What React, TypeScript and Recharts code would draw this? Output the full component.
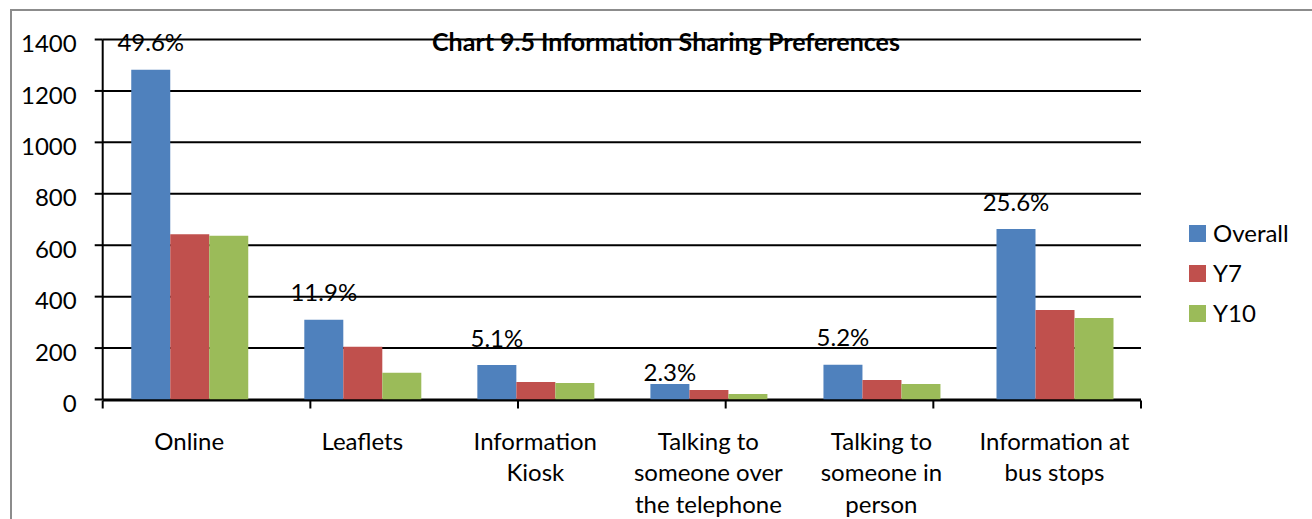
import React from "react";
import { BarChart, Bar, XAxis, YAxis, CartesianGrid, Legend, LabelList } from "recharts";

const categories = [
  "Online",
  "Leaflets",
  "Information\nKiosk",
  "Talking to\nsomeone over\nthe telephone",
  "Talking to\nsomeone in\nperson",
  "Information at\nbus stops",
];
const overall = [1282, 310, 134, 60, 135, 663];
const y7 = [643, 205, 68, 37, 76, 348];
const y10 = [637, 104, 64, 21, 60, 317];
const shareLabels = ["49.6%", "11.9%", "5.1%", "2.3%", "5.2%", "25.6%"];
const yTicks = [0, 200, 400, 600, 800, 1000, 1200, 1400];
const edgeTicks = [0, 1, 2, 3, 4, 5, 6];

// style: how far above the blue bar each share label sits
const labelRaise = [27, 27, 27, 12, 27, 27];

const FONT = "Lato, 'Liberation Sans', sans-serif";
const FS = 24;
const COLORS = { overall: "#4F81BD", y7: "#C0504D", y10: "#9BBB59" };
const seriesNames = [
  { key: "overall", name: "Overall", color: COLORS.overall },
  { key: "y7", name: "Y7", color: COLORS.y7 },
  { key: "y10", name: "Y10", color: COLORS.y10 },
];

const data = categories.map((c, i) => ({
  name: c,
  overall: overall[i],
  y7: y7[i],
  y10: y10[i],
  share: shareLabels[i],
}));

const YTick = (props: any) => {
  const { x, y, payload } = props;
  return (
    <text x={x} y={y + 4} dy="0.36em" textAnchor="end" fontSize={FS} fontFamily={FONT} fill="#000">
      {payload.value}
    </text>
  );
};

const EmptyTick = () => <g />;

const XTick = (props: any) => {
  const { x, y, payload } = props;
  const lines = String(payload.value).split("\n");
  return (
    <g>
      {lines.map((ln, i) => (
        <text
          key={i}
          x={x}
          y={y + 50 + i * 31.7}
          textAnchor="middle"
          fontSize={FS}
          fontFamily={FONT}
          fill="#000"
        >
          {ln}
        </text>
      ))}
    </g>
  );
};

const ShareLabel = (props: any) => {
  const { x, y, width, value } = props;
  const idx = shareLabels.indexOf(value);
  const raise = idx >= 0 ? labelRaise[idx] : 27;
  return (
    <text
      x={x + width / 2}
      y={y - raise}
      dy="0.36em"
      textAnchor="middle"
      fontSize={FS}
      fontFamily={FONT}
      fill="#000"
    >
      {value}
    </text>
  );
};

const LegendContent = () => (
  <div style={{ fontFamily: FONT, fontSize: FS, color: "#000" }}>
    {seriesNames.map((s) => (
      <div key={s.key} style={{ display: "flex", alignItems: "center", height: 40 }}>
        <div style={{ width: 17, height: 17, background: s.color, marginRight: 7 }} />
        <span style={{ lineHeight: "40px" }}>{s.name}</span>
      </div>
    ))}
  </div>
);

export default function App() {
  return (
    <div
      style={{
        position: "absolute",
        left: 0,
        top: 0,
        width: 1312,
        height: 519,
        overflow: "hidden",
        background: "#fff",
      }}
    >
      <div
        style={{
          position: "absolute",
          left: 10,
          top: 9,
          width: 1400,
          height: 700,
          border: "2px solid #8c8c8c",
        }}
      />
      <div style={{ position: "absolute", left: 0, top: 0 }}>
        <BarChart
          width={1312}
          height={519}
          data={data}
          margin={{ top: 39.5, right: 171, left: 0, bottom: 117.5 }}
          barCategoryGap="16.5%"
          barGap={0}
        >
          <CartesianGrid vertical={false} stroke="#000" strokeWidth={2} />
          <XAxis
            xAxisId="edges"
            type="number"
            domain={[0, 6]}
            ticks={edgeTicks}
            interval={0}
            height={1}
            tick={<EmptyTick />}
            tickSize={8}
            axisLine={{ stroke: "#000", strokeWidth: 2 }}
            tickLine={{ stroke: "#000", strokeWidth: 2 }}
          />
          <XAxis
            dataKey="name"
            height={1}
            axisLine={false}
            tickLine={false}
            tickSize={0}
            tickMargin={0}
            interval={0}
            tick={<XTick />}
          />
          <YAxis
            width={102.7}
            domain={[0, 1400]}
            ticks={yTicks}
            interval={0}
            tickSize={8}
            tickMargin={18}
            axisLine={{ stroke: "#000", strokeWidth: 2 }}
            tickLine={{ stroke: "#000", strokeWidth: 2 }}
            tick={<YTick />}
          />
          <Legend
            layout="horizontal"
            verticalAlign="middle"
            align="center"
            content={<LegendContent />}
            wrapperStyle={{ left: 1189, top: 213, width: 120, height: 120 }}
          />
          <Bar dataKey="overall" name="Overall" fill={COLORS.overall} isAnimationActive={false}>
            <LabelList dataKey="share" content={<ShareLabel />} />
          </Bar>
          <Bar dataKey="y7" name="Y7" fill={COLORS.y7} isAnimationActive={false} />
          <Bar dataKey="y10" name="Y10" fill={COLORS.y10} isAnimationActive={false} />
        </BarChart>
      </div>
      <div
        style={{
          position: "absolute",
          left: 666,
          top: 41,
          transform: "translate(-50%, -50%)",
          fontFamily: FONT,
          fontWeight: "bold",
          fontSize: 25,
          color: "#000",
          whiteSpace: "nowrap",
        }}
      >
        Chart 9.5 Information Sharing Preferences
      </div>
    </div>
  );
}
